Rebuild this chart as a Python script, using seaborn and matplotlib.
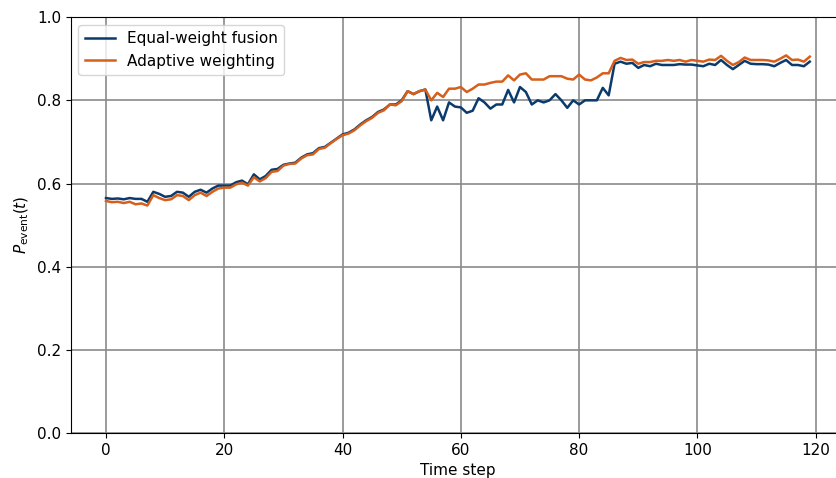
import matplotlib
matplotlib.use("Agg")
import matplotlib.pyplot as plt
import pandas as pd
import seaborn as sns

# time steps 0..119
steps = list(range(120))

equal_weight = [
    0.565, 0.563, 0.564, 0.562, 0.565, 0.563, 0.563, 0.556, 0.580, 0.575,
    0.568, 0.570, 0.580, 0.578, 0.568, 0.580, 0.585, 0.578, 0.588, 0.595,
    0.595, 0.595, 0.603, 0.607, 0.598, 0.622, 0.610, 0.618, 0.633, 0.635,
    0.645, 0.648, 0.650, 0.662, 0.670, 0.673, 0.685, 0.688, 0.698, 0.708,
    0.718, 0.722, 0.730, 0.742, 0.752, 0.760, 0.772, 0.778, 0.790, 0.790,
    0.800, 0.822, 0.815, 0.822, 0.826, 0.752, 0.785, 0.752, 0.795, 0.785,
    0.783, 0.770, 0.775, 0.805, 0.795, 0.780, 0.790, 0.790, 0.825, 0.795,
    0.832, 0.820, 0.790, 0.800, 0.795, 0.800, 0.815, 0.800, 0.782, 0.800,
    0.790, 0.800, 0.800, 0.800, 0.830, 0.812, 0.888, 0.893, 0.888, 0.890,
    0.878, 0.885, 0.882, 0.888, 0.885, 0.885, 0.885, 0.887, 0.886, 0.886,
    0.884, 0.882, 0.888, 0.885, 0.897, 0.885, 0.875, 0.885, 0.895, 0.888,
    0.887, 0.887, 0.886, 0.882, 0.890, 0.897, 0.885, 0.885, 0.882, 0.893,
]

adaptive = [
    0.558, 0.555, 0.556, 0.553, 0.556, 0.550, 0.552, 0.547, 0.572, 0.565,
    0.560, 0.562, 0.572, 0.570, 0.560, 0.572, 0.578, 0.570, 0.580, 0.588,
    0.590, 0.590, 0.598, 0.602, 0.595, 0.615, 0.605, 0.613, 0.628, 0.630,
    0.643, 0.647, 0.648, 0.660, 0.668, 0.670, 0.683, 0.686, 0.697, 0.707,
    0.716, 0.720, 0.728, 0.740, 0.750, 0.758, 0.770, 0.776, 0.790, 0.788,
    0.798, 0.822, 0.815, 0.822, 0.826, 0.800, 0.818, 0.808, 0.828, 0.828,
    0.832, 0.820, 0.828, 0.838, 0.838, 0.842, 0.845, 0.845, 0.860, 0.848,
    0.862, 0.865, 0.850, 0.850, 0.850, 0.858, 0.858, 0.858, 0.852, 0.850,
    0.862, 0.850, 0.848, 0.855, 0.865, 0.865, 0.895, 0.902, 0.897, 0.898,
    0.888, 0.892, 0.892, 0.895, 0.895, 0.897, 0.895, 0.897, 0.893, 0.897,
    0.895, 0.893, 0.898, 0.897, 0.907, 0.895, 0.885, 0.892, 0.903, 0.897,
    0.897, 0.897, 0.896, 0.893, 0.900, 0.908, 0.897, 0.898, 0.893, 0.905,
]

df = pd.DataFrame({
    "Time step": steps * 2,
    "p": equal_weight + adaptive,
    "method": ["Equal-weight fusion"] * 120 + ["Adaptive weighting"] * 120,
})

fig = plt.figure(figsize=(8.36, 4.78), dpi=100)
# the reference is a crop: the right edge of the axes runs past the image
ax = fig.add_axes([0.0847, 0.0941, 0.926, 0.870])

sns.lineplot(data=df, x="Time step", y="p", hue="method",
             palette=["#0b3a6c", "#d65f1b"], linewidth=1.8, ax=ax)

ax.set_xlim(-5.95, 124.95)
ax.set_ylim(0, 1.0)
ax.set_xticks([0, 20, 40, 60, 80, 100, 120])
ax.tick_params(labelsize=11)
ax.set_ylabel(r"$P_{\mathrm{event}}(t)$", fontsize=11)
ax.set_xlabel("Time step", fontsize=11)
ax.grid(True, color="#8a8a8a", linewidth=1.2)
ax.legend(loc="upper left", fontsize=11)

fig.savefig("out.png", dpi=100)
